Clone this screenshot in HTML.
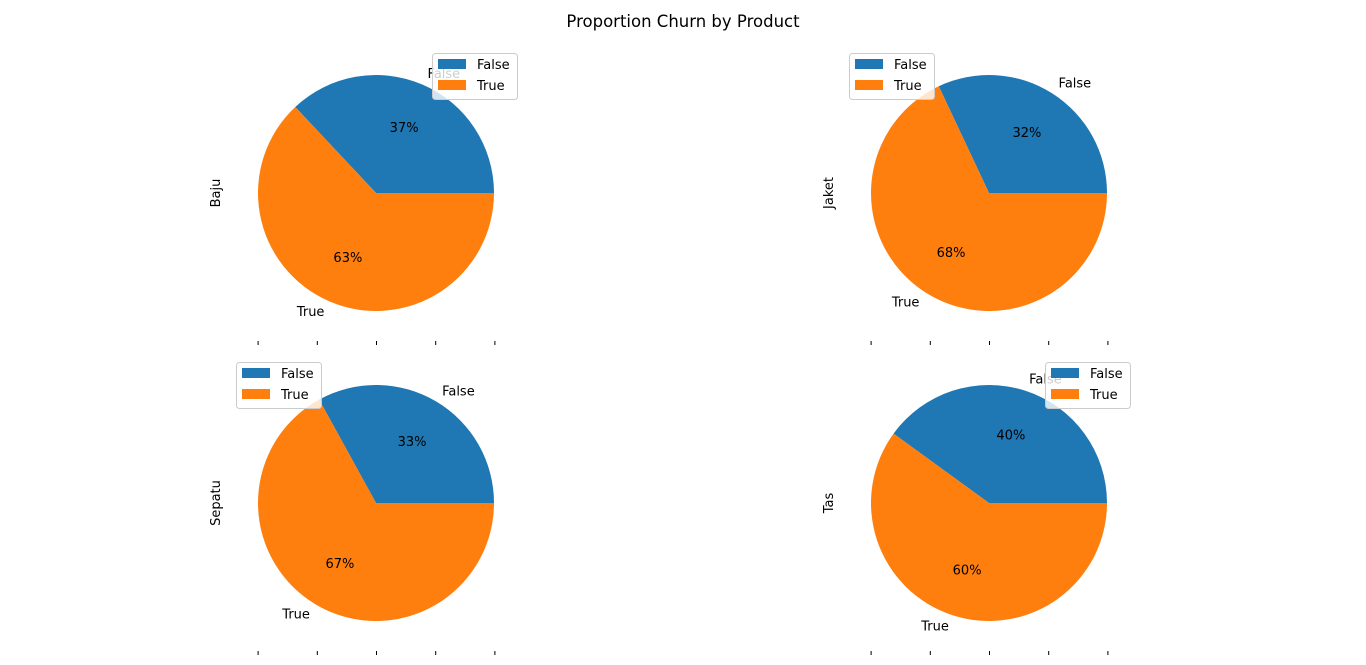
<!DOCTYPE html>
<html><head><meta charset="utf-8"><style>
body{margin:0;background:#fff;}
svg{display:block;font-family:"DejaVu Sans","Liberation Sans",sans-serif;}
</style></head>
<body>
<svg id="chart" width="1366" height="665">
<text x="683" y="27" text-anchor="middle" font-size="16.5">Proportion Churn by Product</text>
</svg>
<script>
const products = ["Baju", "Jaket", "Sepatu", "Tas"];
const falseShare = [37, 32, 33, 40];
const trueShare = [63, 68, 67, 60];
const sliceLabels = ["False", "True"];
const colors = ["#1f77b4", "#ff7f0e"];
const centers = [[376,193],[989,193],[376,503],[989,503]];
const legendPos = [[432,53],[849,53],[236,362],[1045,362]];
const R = 118;
const NS = "http://www.w3.org/2000/svg";
const svg = document.getElementById("chart");
function mk(tag, attrs, parent){const e=document.createElementNS(NS,tag);for(const k in attrs)e.setAttribute(k,attrs[k]);(parent||svg).appendChild(e);return e;}
products.forEach((p,i)=>{
  const [cx,cy]=centers[i];
  const g=mk("g",{});
  
  
  const vals=[falseShare[i],trueShare[i]];
  const tot=vals[0]+vals[1];
  let a0=0;
  vals.forEach((v,j)=>{
    const a1=a0+v/tot*2*Math.PI;
    const x0=cx+R*Math.cos(a0),y0=cy-R*Math.sin(a0),x1=cx+R*Math.cos(a1),y1=cy-R*Math.sin(a1);
    const large=(a1-a0)>Math.PI?1:0;
    const path=mk("path",{d:`M${cx},${cy} L${x0},${y0} A${R},${R} 0 ${large} 0 ${x1},${y1} Z`,fill:colors[j]},g);
    
    
    const m=(a0+a1)/2;
    const lx=cx+1.1*R*Math.cos(m), ly=cy-1.1*R*Math.sin(m);
    const t=mk("text",{x:lx,y:ly+4,"font-size":13,"text-anchor":Math.cos(m)>=0?"start":"end"},g);
    t.textContent=sliceLabels[j];
    
    
    const pt=mk("text",{x:cx+0.6*R*Math.cos(m),y:cy-0.6*R*Math.sin(m)+4,"font-size":13,"text-anchor":"middle"},g);
    pt.textContent=Math.round(v/tot*100)+"%";
    
    
    a0=a1;
  });
  const yl=mk("text",{x:0,y:0,"font-size":13,"text-anchor":"middle",transform:`translate(${cx-156},${cy}) rotate(-90)`},g);
  yl.textContent=p;
  
  
  for(let k=-2;k<=2;k++){
    const tk=mk("line",{x1:cx+k*59.2+0.5,x2:cx+k*59.2+0.5,y1:cy+148,y2:cy+152,stroke:"#000","stroke-width":1},g);
    
    
  }
  const [lx,ly]=legendPos[i];
  const lg=mk("g",{},g);
  
  
  mk("rect",{x:lx+0.5,y:ly+0.5,width:85,height:46,rx:3,fill:"rgba(255,255,255,0.8)",stroke:"#ccc"},lg);
  sliceLabels.forEach((s,j)=>{
    const r=mk("rect",{x:lx+6,y:ly+6+j*21,width:28,height:10,fill:colors[j]},lg);
    
    
    const t=mk("text",{x:lx+45,y:ly+16+j*21,"font-size":13},lg);
    t.textContent=s;
    
    
  });
});
</script>
</body></html>
